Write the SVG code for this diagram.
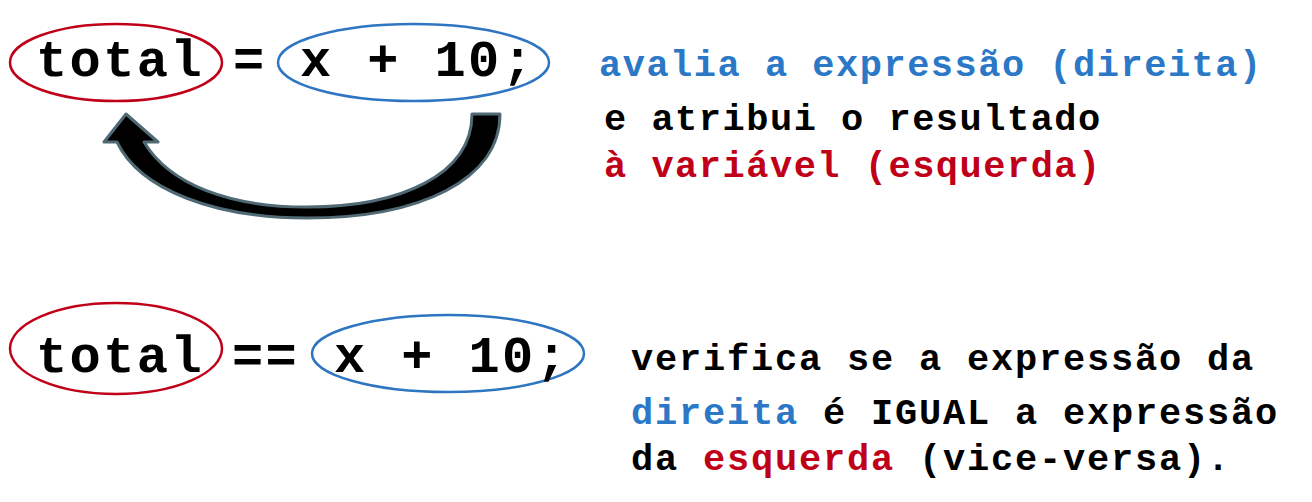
<svg xmlns="http://www.w3.org/2000/svg" width="1312" height="502" viewBox="0 0 1312 502">
<style>
.code{font-family:"Liberation Mono","Courier New",monospace;font-weight:bold;font-size:52px;letter-spacing:2.4px;fill:#000}
.desc{font-family:"Liberation Mono","Courier New",monospace;font-weight:bold;font-size:37px;letter-spacing:1.5px;fill:#000}
.desc2{font-family:"Liberation Mono","Courier New",monospace;font-weight:bold;font-size:37px;letter-spacing:1.8px;fill:#000}
.blue{fill:#2b78c6}
.red{fill:#c00018}
.er{fill:none;stroke:#c00018;stroke-width:2.5}
.eb{fill:none;stroke:#2e75c2;stroke-width:2.5}
</style>
<rect width="1312" height="502" fill="#fff"/>
<g id="top-left">
<ellipse class="er" cx="116" cy="62.5" rx="106" ry="38.5"/>
<text class="code" x="36" y="76">total</text>
</g>
<g id="top-eq"><text class="code" x="233" y="76">=</text></g>
<g id="top-right">
<ellipse class="eb" cx="413.5" cy="62.5" rx="135.5" ry="38.5"/>
<text class="code" x="300" y="76">x + 10;</text>
</g>
<g id="connectors">
<path d="M472,114 L500,114 C500,180 420,218 307,218 C215,218 140,190 117,142 L104,142 L126,114 L158,142 L144,142 C170,185 230,207 307,207 C400,207 472,175 472,114 Z" fill="#000" stroke="#506a75" stroke-width="3" stroke-linejoin="round"/>
</g>
<g id="top-desc">
<text class="desc blue" x="599" y="76">avalia a expressão (direita)</text>
<text class="desc" x="604" y="130">e atribui o resultado</text>
<text class="desc red" x="604" y="177">à variável (esquerda)</text>
</g>
<g id="bottom-left">
<ellipse class="er" cx="116" cy="348.5" rx="106" ry="45.5"/>
<text class="code" x="36" y="372">total</text>
</g>
<g id="bottom-eq"><text class="code" x="232" y="372">==</text></g>
<g id="bottom-right">
<ellipse class="eb" cx="448" cy="353.5" rx="136" ry="38.5"/>
<text class="code" x="334" y="372">x + 10;</text>
</g>
<g id="bottom-desc">
<text class="desc2" x="631" y="370">verifica se a expressão da</text>
<text class="desc2" x="631" y="424"><tspan class="blue">direita</tspan> é IGUAL a expressão</text>
<text class="desc2" x="631" y="470">da <tspan class="red">esquerda</tspan> (vice-versa).</text>
</g>
</svg>
